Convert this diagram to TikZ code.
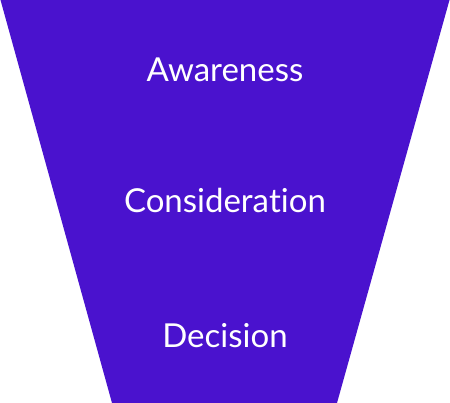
\documentclass[tikz,border=0pt]{standalone}
\usepackage{fontspec}
\setmainfont[Ligatures={NoCommon,NoRare,NoDiscretionary,NoContextual}]{Lato}
\definecolor{funnel}{HTML}{4A12CE}
\begin{document}
\begin{tikzpicture}[x=1pt,y=1pt,
  stage/.style={text=white,font=\fontsize{33}{36}\selectfont,anchor=base,inner sep=0pt}]
\useasboundingbox (0,0) rectangle (450,403);
\fill[funnel] (0.5,403) -- (449.5,403) -- (337,0) -- (112,0) -- cycle;
\node[stage] (aw) at (225,321) {Awareness};
\node[stage] (co) at (225,190) {Considera\kern0pt tion};
\node[stage] (de) at (225,55) {Decision};
\end{tikzpicture}
\end{document}
